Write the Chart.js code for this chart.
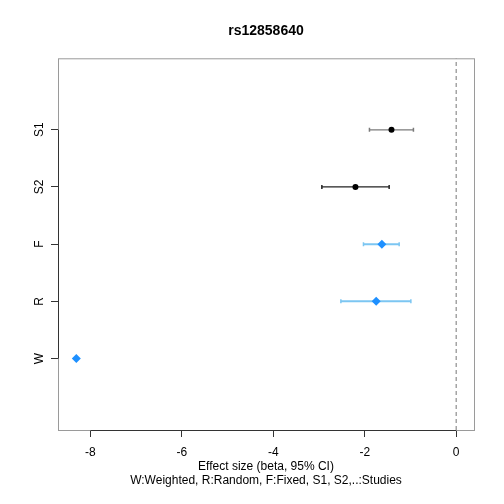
<!DOCTYPE html>
<html>
<head>
<meta charset="utf-8">
<script src="https://cdn.jsdelivr.net/npm/chart.js@4/dist/chart.umd.min.js"></script>
<style>
  html, body { margin: 0; padding: 0; background: #fff; }
</style>
</head>
<body>
<canvas id="forest" width="504" height="504"></canvas>
<script>
// rows from top to bottom
const rowLabels = ["S1", "S2", "F", "R", "W"];
const estimates = [-1.415, -2.203, -1.625, -1.75, -8.31];
const lowerCI = [-1.897, -2.938, -2.028, -2.522, null];
const upperCI = [-0.935, -1.466, -1.247, -0.991, null];
const isSummary = [false, false, true, true, true];

const xTicks = [-8, -6, -4, -2, 0];
const xMin = -8.71;
const xMax = 0.39;
const yMin = -0.25;
const yMax = 6.25;

const rowY = i => rowLabels.length - i;

const ciColors = ["#7a7a7a", "#222222", "#7cc6f2", "#7cc6f2", "#7cc6f2"];

const studyPoints = [];
const summaryPoints = [];
estimates.forEach((v, i) => {
    const p = { x: v, y: rowY(i) };
    if (isSummary[i]) summaryPoints.push(p); else studyPoints.push(p);
});

const ciSets = [];
rowLabels.forEach((lab, i) => {
    if (lowerCI[i] === null) return;
    ciSets.push({
        type: "line",
        data: [{ x: lowerCI[i], y: rowY(i) }, { x: upperCI[i], y: rowY(i) }],
        borderColor: ciColors[i],
        borderWidth: isSummary[i] ? 2 : 1.2,
        pointStyle: "line",
        pointRotation: 90,
        pointRadius: 2,
        pointBorderColor: ciColors[i],
        pointBorderWidth: 1.5,
        fill: false
    });
});

// grey box and dark axis lines between the outer ticks, like base R
const boxPlugin = {
    id: "box",
    afterDatasetsDraw(chart) {
        const { ctx, chartArea: a, scales } = chart;
        ctx.save();
        ctx.strokeStyle = "#9a9a9a";
        ctx.lineWidth = 1;
        ctx.strokeRect(a.left + 0.5, a.top + 0.5, a.right - a.left, a.bottom - a.top);

        ctx.strokeStyle = "#333";
        ctx.beginPath();
        const x0 = scales.x.getPixelForValue(xTicks[0]);
        const x1 = scales.x.getPixelForValue(xTicks[xTicks.length - 1]);
        ctx.moveTo(x0, a.bottom + 0.5);
        ctx.lineTo(x1, a.bottom + 0.5);
        const y0 = scales.y.getPixelForValue(rowY(0));
        const y1 = scales.y.getPixelForValue(rowY(rowLabels.length - 1));
        ctx.moveTo(a.left + 0.5, y0);
        ctx.lineTo(a.left + 0.5, y1);
        ctx.stroke();
        ctx.restore();
    }
};

Chart.defaults.font.family = "'Liberation Sans', Arial, sans-serif";
Chart.defaults.font.size = 12;
Chart.defaults.color = "#000";

new Chart(document.getElementById("forest"), {
    type: "scatter",
    data: {
        datasets: [
            {
                data: summaryPoints,
                pointStyle: "rectRot",
                pointRadius: 4.5,
                backgroundColor: "#1e90ff",
                borderColor: "#1e90ff",
                borderWidth: 0
            },
            {
                data: studyPoints,
                pointStyle: "circle",
                pointRadius: 3,
                backgroundColor: "#000",
                borderColor: "#000",
                borderWidth: 0
            },
            ...ciSets,
            {
                type: "line",
                data: [{ x: 0, y: yMin }, { x: 0, y: yMax }],
                borderColor: "#777",
                borderWidth: 1,
                borderDash: [4, 3],
                pointRadius: 0,
                fill: false
            }
        ]
    },
    options: {
        responsive: false,
        animation: false,
        layout: { padding: { left: 0, right: 30, top: 0, bottom: 0 } },
        plugins: {
            legend: { display: false },
            tooltip: { enabled: false },
            title: {
                display: true,
                text: "rs12858640",
                fullSize: false,
                font: { size: 14, weight: "bold" },
                color: "#000",
                padding: { top: 23, bottom: 18.5 }
            }
        },
        scales: {
            x: {
                type: "linear",
                min: xMin,
                max: xMax,
                afterBuildTicks: s => { s.ticks = xTicks.map(v => ({ value: v })); },
                afterFit: s => { s.height = 74; },
                grid: {
                    drawOnChartArea: false,
                    drawTicks: true,
                    tickLength: 7,
                    color: "#333"
                },
                border: { display: false },
                ticks: { padding: 8, maxRotation: 0 },
                title: {
                    display: true,
                    text: ["Effect size (beta, 95% CI)", "W:Weighted, R:Random, F:Fixed, S1, S2,..:Studies"],
                    padding: { top: 0, bottom: 16 },
                    font: { size: 12 }
                }
            },
            y: {
                type: "linear",
                min: yMin,
                max: yMax,
                afterBuildTicks: s => { s.ticks = rowLabels.map((l, i) => ({ value: rowY(i) })); },
                afterFit: s => { s.width = 58; },
                grid: {
                    drawOnChartArea: false,
                    drawTicks: true,
                    tickLength: 7,
                    color: "#333"
                },
                border: { display: false },
                ticks: {
                    minRotation: 90,
                    maxRotation: 90,
                    crossAlign: "center",
                    padding: 4,
                    callback: v => rowLabels[rowLabels.length - v]
                }
            }
        }
    },
    plugins: [boxPlugin]
});
</script>
</body>
</html>
